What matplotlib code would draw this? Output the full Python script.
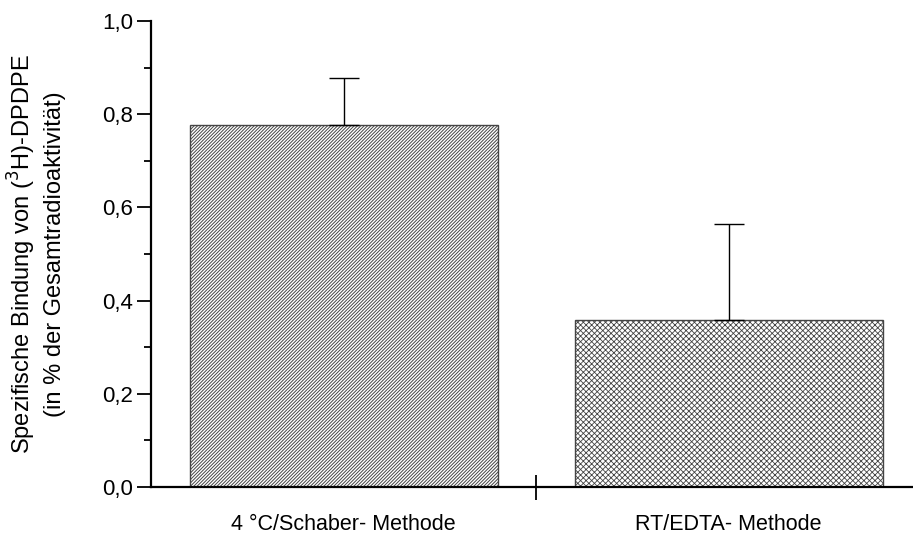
import matplotlib
matplotlib.use("Agg")
import matplotlib.pyplot as plt
from matplotlib.ticker import MultipleLocator

plt.rcParams['font.family'] = ['Liberation Sans', 'DejaVu Sans']

categories = ["4 \u00b0C/Schaber- Methode", "RT/EDTA- Methode"]
means = [0.777, 0.358]
errors = [0.101, 0.206]
hatches = ["/" * 10, "x" * 6]
hatch_colors = ['#6a6a6a', '#7c7c7c']
hatch_widths = [0.7, 0.6]
y_ticks = [0.0, 0.2, 0.4, 0.6, 0.8, 1.0]
y_labels = ["0,0", "0,2", "0,4", "0,6", "0,8", "1,0"]

fig = plt.figure(figsize=(9.13, 5.40), dpi=100)
ax = fig.add_axes([151 / 913, 1 - 487 / 540, (921 - 151) / 913, (487 - 21) / 540])

x = list(range(len(categories)))
for xi, m, e, h, hc, hw in zip(x, means, errors, hatches, hatch_colors, hatch_widths):
    with plt.rc_context({'hatch.color': hc, 'hatch.linewidth': hw}):
        ax.bar(xi, m, width=0.8, color='white', edgecolor='#444444',
               linewidth=1.0, hatch=h, zorder=2)
    ax.errorbar(xi, m, yerr=[[0], [e]], fmt='none', ecolor='black',
                elinewidth=1.0, capsize=11, capthick=1.0, zorder=3)

ax.set_xlim(-0.5, 1.5)
ax.set_ylim(0, 1.0)

ax.spines['top'].set_visible(False)
ax.spines['right'].set_visible(False)
ax.spines['left'].set_linewidth(1.6)
ax.spines['bottom'].set_linewidth(1.6)

ax.set_yticks(y_ticks)
ax.set_yticklabels(y_labels, fontsize=16)
ax.yaxis.set_minor_locator(MultipleLocator(0.1))
ax.tick_params(axis='y', which='major', direction='out', length=10, width=1.3, pad=3)
ax.tick_params(axis='y', which='minor', direction='out', length=5, width=1.3)

# separator tick between the two groups, category names without ticks
ax.set_xticks([0.5])
ax.set_xticklabels([""])
ax.tick_params(axis='x', which='major', direction='inout', length=18, width=1.3)
for xi, name in zip(x, categories):
    ax.text(xi, -0.058, name, transform=ax.get_xaxis_transform(),
            ha='center', va='top', fontsize=15.5)

ax.set_ylabel("Spezifische Bindung von ($^3$H)-DPDPE\n(in % der Gesamtradioaktivit\u00e4t)",
              fontsize=17, labelpad=26, linespacing=1.35)

fig.savefig("out.png", dpi=100)
